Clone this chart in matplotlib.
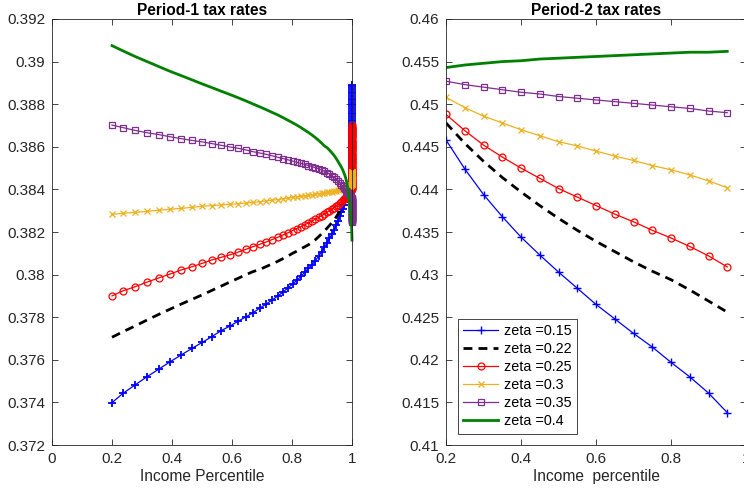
import matplotlib
matplotlib.use("Agg")
from matplotlib import pyplot as plt
from matplotlib.ticker import FuncFormatter

plt.rcParams['font.family'] = ['Liberation Sans', 'DejaVu Sans']

# ---- period 1: income percentile grid (dense near the top) ----
x1_main = [0.200, 0.237, 0.277, 0.317, 0.357, 0.394, 0.431, 0.467, 0.501, 0.533,
           0.564, 0.594, 0.621, 0.647, 0.670, 0.692, 0.713, 0.733, 0.752, 0.770,
           0.786, 0.802, 0.816, 0.830, 0.843, 0.855, 0.867, 0.878, 0.889, 0.899,
           0.908, 0.917, 0.925, 0.933, 0.940, 0.947, 0.953, 0.959, 0.964, 0.969,
           0.973, 0.977, 0.981, 0.984, 0.987, 0.990, 0.992, 0.994, 0.996, 0.998]
# top percentiles, squeezed against x = 1
x1_top = [0.99882, 0.99884, 0.99886, 0.99888, 0.99890, 0.99892, 0.99894, 0.99896, 0.99898, 0.99900,
          0.99902, 0.99904, 0.99906, 0.99908, 0.99910, 0.99912, 0.99914, 0.99916, 0.99918, 0.99920,
          0.99922, 0.99924, 0.99926, 0.99928, 0.99930, 0.99932, 0.99934, 0.99936, 0.99938, 0.99940,
          0.99942, 0.99944, 0.99946, 0.99948, 0.99950, 0.99952, 0.99954, 0.99956, 0.99958, 0.99960,
          0.99962, 0.99964, 0.99966, 0.99968, 0.99970, 0.99972, 0.99974, 0.99976, 0.99978, 0.99980,
          0.99982, 0.99984, 0.99986, 0.99988, 0.99990, 0.99992, 0.99994, 0.99996, 0.99998, 1.00000]
x1_top_line = [0.9990, 0.9994, 0.9997, 1.0000]

p1_015 = [0.37399, 0.37443, 0.37482, 0.37521, 0.37557, 0.37591, 0.37623, 0.37654, 0.37682, 0.37709,
          0.37737, 0.37759, 0.37782, 0.37802, 0.37821, 0.37842, 0.37861, 0.37880, 0.37899, 0.37918,
          0.37937, 0.37956, 0.37973, 0.37992, 0.38012, 0.38030, 0.38047, 0.38066, 0.38087, 0.38108,
          0.38128, 0.38150, 0.38170, 0.38190, 0.38210, 0.38232, 0.38252, 0.38273, 0.38292, 0.38310,
          0.38327, 0.38343, 0.38358, 0.38369, 0.38378, 0.38385, 0.38390, 0.38394, 0.38398, 0.38402]
p1_015_top = [0.38410, 0.38418, 0.38426, 0.38434, 0.38443, 0.38451, 0.38459, 0.38467, 0.38475, 0.38483,
              0.38492, 0.38500, 0.38508, 0.38516, 0.38524, 0.38532, 0.38541, 0.38549, 0.38557, 0.38565,
              0.38573, 0.38581, 0.38590, 0.38598, 0.38606, 0.38614, 0.38622, 0.38630, 0.38639, 0.38647,
              0.38655, 0.38663, 0.38671, 0.38679, 0.38688, 0.38696, 0.38704, 0.38712, 0.38720, 0.38728,
              0.38737, 0.38745, 0.38753, 0.38761, 0.38769, 0.38777, 0.38786, 0.38794, 0.38802, 0.38810,
              0.38818, 0.38826, 0.38835, 0.38843, 0.38851, 0.38859, 0.38867, 0.38875, 0.38884, 0.38892]
p1_022 = [0.37706, 0.37732, 0.37759, 0.37787, 0.37814, 0.37838, 0.37862, 0.37884, 0.37905, 0.37926,
          0.37946, 0.37966, 0.37983, 0.38000, 0.38014, 0.38024, 0.38037, 0.38050, 0.38062, 0.38075,
          0.38087, 0.38100, 0.38110, 0.38121, 0.38131, 0.38140, 0.38152, 0.38164, 0.38178, 0.38192,
          0.38205, 0.38218, 0.38231, 0.38244, 0.38256, 0.38270, 0.38283, 0.38297, 0.38309, 0.38322,
          0.38333, 0.38344, 0.38355, 0.38364, 0.38372, 0.38380, 0.38385, 0.38390, 0.38394, 0.38398]
p1_022_top = [0.3844, 0.3853, 0.3862, 0.3871]
p1_025 = [0.37900, 0.37924, 0.37943, 0.37965, 0.37985, 0.38003, 0.38022, 0.38037, 0.38053, 0.38069,
          0.38081, 0.38093, 0.38106, 0.38119, 0.38131, 0.38142, 0.38153, 0.38164, 0.38175, 0.38186,
          0.38196, 0.38207, 0.38216, 0.38225, 0.38234, 0.38243, 0.38252, 0.38261, 0.38269, 0.38277,
          0.38285, 0.38293, 0.38300, 0.38307, 0.38313, 0.38320, 0.38327, 0.38334, 0.38341, 0.38348,
          0.38354, 0.38360, 0.38366, 0.38371, 0.38376, 0.38381, 0.38385, 0.38389, 0.38393, 0.38397]
p1_025_top = [0.38400, 0.38405, 0.38410, 0.38415, 0.38420, 0.38425, 0.38430, 0.38436, 0.38441, 0.38446,
              0.38451, 0.38456, 0.38461, 0.38466, 0.38471, 0.38476, 0.38481, 0.38486, 0.38492, 0.38497,
              0.38502, 0.38507, 0.38512, 0.38517, 0.38522, 0.38527, 0.38532, 0.38537, 0.38542, 0.38547,
              0.38553, 0.38558, 0.38563, 0.38568, 0.38573, 0.38578, 0.38583, 0.38588, 0.38593, 0.38598,
              0.38603, 0.38608, 0.38614, 0.38619, 0.38624, 0.38629, 0.38634, 0.38639, 0.38644, 0.38649,
              0.38654, 0.38659, 0.38664, 0.38670, 0.38675, 0.38680, 0.38685, 0.38690, 0.38695, 0.38700]
p1_030 = [0.38283, 0.38288, 0.38292, 0.38297, 0.38302, 0.38307, 0.38311, 0.38316, 0.38321, 0.38324,
          0.38327, 0.38330, 0.38333, 0.38336, 0.38339, 0.38342, 0.38346, 0.38349, 0.38352, 0.38356,
          0.38359, 0.38362, 0.38365, 0.38367, 0.38370, 0.38372, 0.38375, 0.38377, 0.38380, 0.38382,
          0.38384, 0.38386, 0.38388, 0.38390, 0.38392, 0.38394, 0.38396, 0.38398, 0.38400, 0.38402,
          0.38404, 0.38406, 0.38408, 0.38410, 0.38412, 0.38414, 0.38416, 0.38418, 0.38420, 0.38422]
p1_030_top = [0.38424, 0.38425, 0.38426, 0.38427, 0.38428, 0.38429, 0.38430, 0.38431, 0.38432, 0.38433,
              0.38434, 0.38435, 0.38436, 0.38437, 0.38438, 0.38439, 0.38440, 0.38441, 0.38442, 0.38443,
              0.38444, 0.38445, 0.38446, 0.38447, 0.38448, 0.38449, 0.38450, 0.38451, 0.38452, 0.38453,
              0.38454, 0.38455, 0.38456, 0.38457, 0.38458, 0.38459, 0.38460, 0.38461, 0.38462, 0.38463,
              0.38464, 0.38465, 0.38466, 0.38467, 0.38468, 0.38469, 0.38470, 0.38471, 0.38472, 0.38473,
              0.38474, 0.38475, 0.38476, 0.38477, 0.38478, 0.38479, 0.38480, 0.38481, 0.38482, 0.38483]
p1_035 = [0.38702, 0.38690, 0.38677, 0.38666, 0.38657, 0.38647, 0.38638, 0.38630, 0.38623, 0.38615,
          0.38607, 0.38599, 0.38593, 0.38585, 0.38577, 0.38571, 0.38565, 0.38558, 0.38551, 0.38545,
          0.38539, 0.38533, 0.38527, 0.38522, 0.38517, 0.38512, 0.38507, 0.38502, 0.38497, 0.38491,
          0.38485, 0.38479, 0.38472, 0.38465, 0.38457, 0.38449, 0.38440, 0.38431, 0.38423, 0.38415,
          0.38408, 0.38400, 0.38393, 0.38387, 0.38382, 0.38377, 0.38373, 0.38369, 0.38365, 0.38361]
p1_035_top = [0.38358, 0.38356, 0.38354, 0.38352, 0.38350, 0.38348, 0.38347, 0.38345, 0.38343, 0.38341,
              0.38339, 0.38337, 0.38335, 0.38334, 0.38332, 0.38330, 0.38328, 0.38326, 0.38324, 0.38322,
              0.38321, 0.38319, 0.38317, 0.38315, 0.38313, 0.38311, 0.38309, 0.38308, 0.38306, 0.38304,
              0.38302, 0.38300, 0.38298, 0.38296, 0.38295, 0.38293, 0.38291, 0.38289, 0.38287, 0.38285,
              0.38283, 0.38282, 0.38280, 0.38278, 0.38276, 0.38274, 0.38272, 0.38270, 0.38269, 0.38267,
              0.38265, 0.38263, 0.38261, 0.38259, 0.38257, 0.38256, 0.38254, 0.38252, 0.38250, 0.38248]
p1_040 = [0.39075, 0.39050, 0.39024, 0.39000, 0.38976, 0.38954, 0.38934, 0.38914, 0.38895, 0.38878,
          0.38861, 0.38845, 0.38830, 0.38815, 0.38801, 0.38788, 0.38775, 0.38762, 0.38750, 0.38737,
          0.38725, 0.38713, 0.38702, 0.38690, 0.38678, 0.38667, 0.38655, 0.38643, 0.38630, 0.38617,
          0.38604, 0.38596, 0.38584, 0.38572, 0.38560, 0.38546, 0.38532, 0.38518, 0.38506, 0.38492,
          0.38478, 0.38463, 0.38443, 0.38423, 0.38398, 0.38365, 0.38340, 0.38310, 0.38275, 0.38240]
p1_040_top = [0.38215, 0.38195, 0.38178, 0.38162]

# ---- period 2 ----
x2 = [0.20, 0.25, 0.30, 0.35, 0.40, 0.45, 0.50, 0.55, 0.60, 0.65, 0.70, 0.75, 0.80, 0.85, 0.90, 0.95]
p2_015 = [0.4458, 0.4424, 0.4394, 0.4368, 0.4344, 0.4323, 0.4303, 0.4284,
          0.4265, 0.4248, 0.4231, 0.4215, 0.4197, 0.4180, 0.4161, 0.4138]
p2_022 = [0.4478, 0.4454, 0.4433, 0.4414, 0.4397, 0.4381, 0.4366, 0.4352,
          0.4339, 0.4327, 0.4315, 0.4304, 0.4294, 0.4282, 0.4269, 0.4256]
p2_025 = [0.4488, 0.4469, 0.4452, 0.4438, 0.4425, 0.4413, 0.4401, 0.4391,
          0.4381, 0.4371, 0.4362, 0.4352, 0.4343, 0.4333, 0.4322, 0.4309]
p2_030 = [0.4508, 0.4496, 0.4486, 0.4478, 0.4470, 0.4463, 0.4456, 0.4451,
          0.4445, 0.4439, 0.4434, 0.4428, 0.4423, 0.4417, 0.4410, 0.4402]
p2_035 = [0.4527, 0.4523, 0.4520, 0.4517, 0.4514, 0.4512, 0.4509, 0.4507,
          0.4505, 0.4503, 0.4501, 0.4499, 0.4497, 0.4495, 0.4492, 0.4490]
p2_040 = [0.4543, 0.4546, 0.4548, 0.4550, 0.4551, 0.4553, 0.4554, 0.4555,
          0.4556, 0.4557, 0.4558, 0.4559, 0.4560, 0.4561, 0.4561, 0.4562]

labels = ['zeta =0.15', 'zeta =0.22', 'zeta =0.25', 'zeta =0.3', 'zeta =0.35', 'zeta =0.4']

blue = (0, 0, 1)
red = (1, 0, 0)
yellow = (0.929, 0.694, 0.125)
purple = (0.494, 0.184, 0.556)
green = (0, 0.5, 0)
axcol = '#262626'


def draw_curves(ax, xm, xl, ys, clip=True, plus_w=1.0):
    # xm: x for marker series, xl: x for plain-line series
    b, k, r, yl, pu, g = ys
    kw = dict(clip_on=clip)
    ax.plot(xm, b, '-', color=blue, marker='+', ms=5.5, mew=plus_w, lw=0.9, label=labels[0], **kw)
    ax.plot(xl, k, '--', color='k', lw=2, dashes=(3.2, 2.2), label=labels[1], **kw)
    ax.plot(xm, r, '-', color=red, marker='o', ms=5, mfc='none', mew=0.9, lw=0.9, label=labels[2], **kw)
    ax.plot(xm, yl, '-', color=yellow, marker='x', ms=4, mew=0.9, lw=0.9, label=labels[3], **kw)
    ax.plot(xm, pu, '-', color=purple, marker='s', ms=4, mfc='none', mew=0.9, lw=0.9, label=labels[4], **kw)
    ax.plot(xl, g, '-', color=green, lw=2, label=labels[5], **kw)


def style(ax):
    ax.tick_params(direction='in', top=True, right=True, length=4, width=0.6,
                   colors=axcol, labelsize=11, pad=5)
    for s in ax.spines.values():
        s.set_color(axcol)
        s.set_linewidth(0.6)


fig = plt.figure(figsize=(7.44, 4.92), dpi=100)
ax1 = fig.add_axes([0.0699, 0.0955, 0.4032, 0.8659])
ax2 = fig.add_axes([0.5995, 0.0955, 0.4032, 0.8659])

draw_curves(ax1, x1_main + x1_top, x1_main + x1_top_line,
            [p1_015 + p1_015_top, p1_022 + p1_022_top, p1_025 + p1_025_top,
             p1_030 + p1_030_top, p1_035 + p1_035_top, p1_040 + p1_040_top],
            clip=False, plus_w=1.3)
ax1.set_xlim(0, 1)
ax1.set_ylim(0.372, 0.392)
ax1.set_xticks([0, 0.2, 0.4, 0.6, 0.8, 1])
ax1.set_yticks([0.372 + 0.002 * i for i in range(11)])
ax1.set_title('Period-1 tax rates', fontweight='bold', fontsize=11.2, pad=3, color='k')
ax1.set_xlabel('Income Percentile', fontsize=11.2, color=axcol, labelpad=2)

draw_curves(ax2, x2, x2, [p2_015, p2_022, p2_025, p2_030, p2_035, p2_040])
ax2.set_xlim(0.2, 1)
ax2.set_ylim(0.41, 0.46)
ax2.set_xticks([0.2, 0.4, 0.6, 0.8, 1])
ax2.set_yticks([0.41 + 0.005 * i for i in range(11)])
ax2.set_title('Period-2 tax rates', fontweight='bold', fontsize=11.2, pad=3, color='k')
ax2.set_xlabel('Income  percentile', fontsize=11.2, color=axcol, labelpad=2)

fmt = FuncFormatter(lambda v, pos: '%g' % round(v, 4))
for ax in (ax1, ax2):
    ax.xaxis.set_major_formatter(fmt)
    ax.yaxis.set_major_formatter(fmt)
    style(ax)

leg = ax2.legend(loc='lower left', bbox_to_anchor=(0.04, 0.027), fontsize=10.4,
                 frameon=True, fancybox=False, edgecolor=axcol, framealpha=1,
                 handlelength=2.45, borderpad=0.35, labelspacing=0.28, handletextpad=0.4,
                 borderaxespad=0)
leg.get_frame().set_linewidth(0.6)

fig.savefig('out.png', dpi=100)
